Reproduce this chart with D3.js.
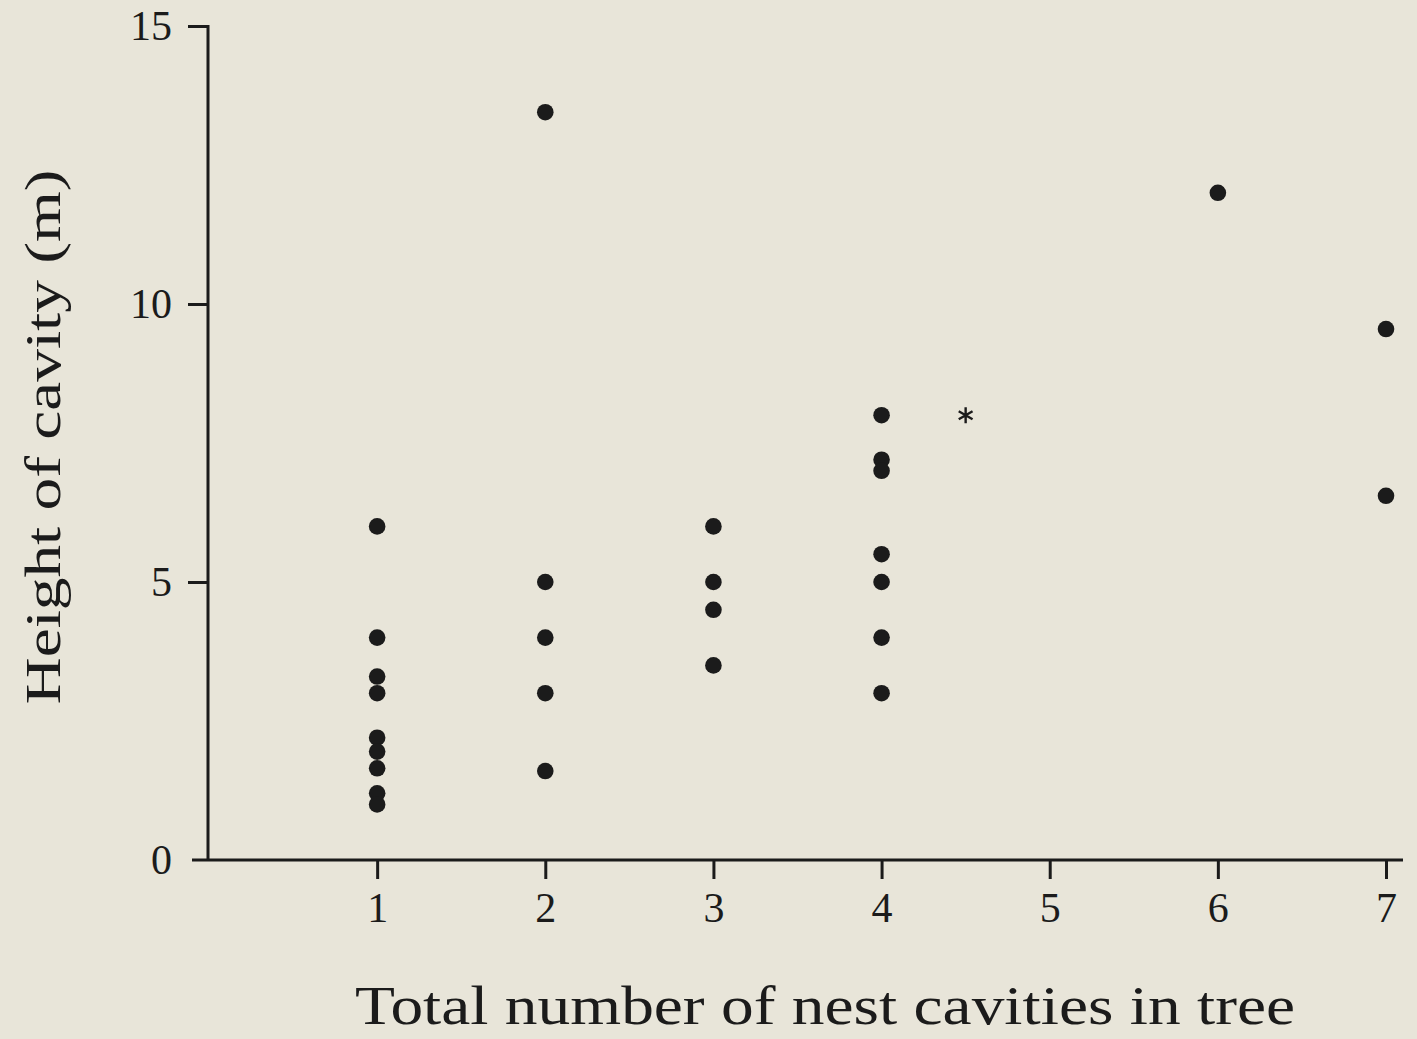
<!DOCTYPE html>
<html><head><meta charset="utf-8">
<script src="https://cdn.jsdelivr.net/npm/d3@7"></script>
<style>html,body{margin:0;padding:0;background:#e8e5d9;}svg{display:block;}</style>
</head><body>
<script>
// Data
const cavitiesInTree = [1,1,1,1,1,1,1,1,1, 2,2,2,2,2, 3,3,3,3, 4,4,4,4,4,4,4, 6, 7,7];
const cavityHeight   = [6,4,3.3,3,2.2,1.95,1.65,1.2,1.0, 13.45,5,4,3,1.6, 6,5,4.5,3.5, 8,7.2,7,5.5,5,4,3, 12, 9.55,6.55];
const starX = [4.5];
const starY = [8];
const xTicks = [1,2,3,4,5,6,7];
const yTicks = [0,5,10,15];
const xTitle = "Total number of nest cavities in tree";
const yTitle = "Height of cavity (m)";

const W = 1417, H = 1039;
const svg = d3.select("body").append("svg").attr("width", W).attr("height", H);
svg.append("rect").attr("width", W).attr("height", H).attr("fill", "#e8e5d9");

const x = d3.scaleLinear().domain([0, 7]).range([209, 1386]);
const y = d3.scaleLinear().domain([0, 15]).range([860, 26]);
const font = "'Liberation Serif', 'DejaVu Serif', serif";
const ink = "#1b1b1b";

// x axis
const gx = svg.append("g").attr("transform", `translate(0,${y(0)})`)
  .call(d3.axisBottom(x).tickValues(xTicks).tickFormat(d3.format("d"))
    .tickSize(19).tickPadding(13).tickSizeOuter(0));
gx.select(".domain").remove();
gx.append("line").attr("x1", 192).attr("x2", 1403).attr("y1", 0).attr("y2", 0)
  .attr("stroke", ink).attr("stroke-width", 3);
gx.selectAll(".tick line").attr("stroke", ink).attr("stroke-width", 3);
gx.selectAll(".tick text").attr("fill", ink).attr("font-family", font).attr("font-size", 42);

// y axis
const gy = svg.append("g").attr("transform", `translate(${x(0) - 1},0)`)
  .call(d3.axisLeft(y).tickValues(yTicks).tickFormat(d3.format("d"))
    .tickSize(20).tickPadding(16).tickSizeOuter(0));
gy.select(".domain").remove();
gy.append("line").attr("x1", 0).attr("x2", 0).attr("y1", y(15) - 1).attr("y2", y(0))
  .attr("stroke", ink).attr("stroke-width", 3);
gy.selectAll(".tick line").attr("stroke", ink).attr("stroke-width", 3);
gy.selectAll(".tick").filter(d => d === 0).select("line").remove();
gy.selectAll(".tick text").attr("fill", ink).attr("font-family", font).attr("font-size", 42);

// points
svg.append("g").selectAll("circle")
  .data(cavitiesInTree.map((d, i) => ({x: d, y: cavityHeight[i]})))
  .join("circle")
  .attr("cx", d => x(d.x)).attr("cy", d => y(d.y)).attr("r", 8.3)
  .attr("fill", ink);

// asterisk
svg.append("g").selectAll("path")
  .data(starX.map((d, i) => ({x: d, y: starY[i]})))
  .join("path")
  .attr("transform", d => `translate(${x(d.x)},${y(d.y)})`)
  .attr("d", d3.symbol().type(d3.symbolAsterisk).size(180))
  .attr("stroke", ink).attr("stroke-width", 2.4).attr("fill", "none");

// titles
svg.append("text").attr("x", 825).attr("y", 1024).attr("text-anchor", "middle")
  .attr("font-family", font).attr("font-size", 54).attr("fill", ink)
  .attr("textLength", 940).attr("lengthAdjust", "spacingAndGlyphs").text(xTitle);
svg.append("text").attr("transform", "translate(60,437) rotate(-90)").attr("text-anchor", "middle")
  .attr("font-family", font).attr("font-size", 50).attr("fill", ink)
  .attr("textLength", 535).attr("lengthAdjust", "spacingAndGlyphs").text(yTitle);
</script>
</body></html>
